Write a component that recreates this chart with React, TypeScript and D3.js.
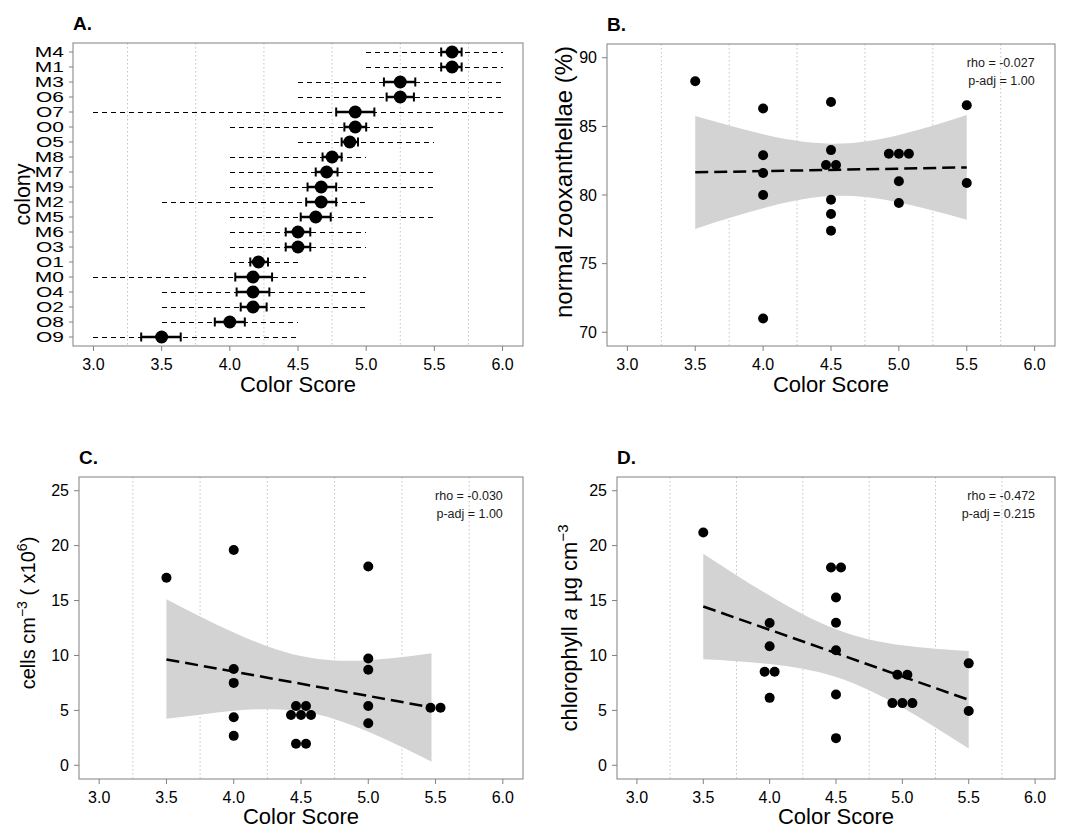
import React from "react";
import * as d3 from "d3";

const FONT = "'Liberation Sans', Arial, Helvetica, sans-serif";

// ---- panel A: colony colour scores (mean, SE bars, min-max range) ----
const colonies = ["M4", "M1", "M3", "O6", "O7", "O0", "O5", "M8", "M7", "M9", "M2", "M5", "M6", "O3", "O1", "M0", "O4", "O2", "O8", "O9"];
const colonyMean = [5.63, 5.63, 5.25, 5.25, 4.92, 4.92, 4.88, 4.75, 4.71, 4.67, 4.67, 4.63, 4.5, 4.5, 4.21, 4.17, 4.17, 4.17, 4.0, 3.5];
const colonySeLow = [5.55, 5.55, 5.13, 5.15, 4.78, 4.84, 4.82, 4.68, 4.63, 4.57, 4.56, 4.52, 4.41, 4.41, 4.15, 4.04, 4.05, 4.08, 3.89, 3.35];
const colonySeHigh = [5.7, 5.7, 5.36, 5.35, 5.06, 5.0, 4.94, 4.82, 4.79, 4.78, 4.78, 4.74, 4.59, 4.59, 4.28, 4.31, 4.29, 4.27, 4.11, 3.64];
const colonyMin = [5.0, 5.0, 4.5, 4.5, 3.0, 4.0, 4.5, 4.0, 4.0, 4.0, 3.5, 4.0, 4.0, 4.0, 4.0, 3.0, 3.5, 3.5, 3.5, 3.0];
const colonyMax = [6.0, 6.0, 6.0, 6.0, 6.0, 5.5, 5.5, 5.0, 5.5, 5.5, 5.0, 5.5, 5.0, 5.0, 4.5, 5.0, 5.0, 5.0, 4.5, 4.5];

// ---- shared x axis ----
const scoreTicks = [3.0, 3.5, 4.0, 4.5, 5.0, 5.5, 6.0];
const scoreGrid = [3.25, 3.75, 4.25, 4.75, 5.25, 5.75];

// ---- panel B: normal zooxanthellae (%) ----
const zooxScore = [3.5, 4, 4, 4, 4, 4, 4.5, 4.5, 4.5, 4.5, 4.5, 4.5, 4.5, 5, 5, 5, 5, 5, 5.5, 5.5];
const zooxValue = [88.28, 86.3, 82.9, 81.6, 80.0, 71.0, 86.78, 83.27, 82.18, 82.18, 79.66, 78.62, 77.4, 83.0, 83.0, 83.0, 81.0, 79.42, 86.54, 80.87];
const zooxBandX = [3.5, 3.75, 4, 4.25, 4.5, 4.75, 5, 5.25, 5.5];
const zooxBandLow = [77.53, 78.32, 79.04, 79.61, 79.92, 79.85, 79.46, 78.88, 78.2];
const zooxBandHigh = [85.76, 85.06, 84.43, 83.95, 83.74, 83.9, 84.38, 85.05, 85.82];
const zooxFitX = [3.5, 5.5];
const zooxFitY = [81.65, 82.01];
const zooxTicks = [70, 75, 80, 85, 90];

// ---- panel C: cells cm-3 ----
const cellScore = [3.5, 4, 4, 4, 4, 4, 4.5, 4.5, 4.5, 4.5, 4.5, 4.5, 4.5, 5, 5, 5, 5, 5, 5.5, 5.5];
const cellValue = [17.08, 19.61, 8.77, 7.5, 4.37, 2.68, 5.39, 5.39, 4.58, 4.58, 4.58, 1.96, 1.96, 18.1, 9.73, 8.7, 5.39, 3.83, 5.24, 5.24];
const cellBandX = [3.5, 3.75, 4, 4.25, 4.5, 4.75, 5, 5.25, 5.47];
const cellBandLow = [4.23, 4.61, 4.96, 5.11, 4.91, 4.2, 3.06, 1.67, 0.33];
const cellBandHigh = [15.11, 13.55, 12.1, 10.84, 9.94, 9.54, 9.57, 9.85, 10.21];
const cellFitX = [3.5, 5.47];
const cellFitY = [9.64, 5.27];

// ---- panel D: chlorophyll a ----
const chlScore = [3.5, 4, 4, 4, 4, 4, 4.5, 4.5, 4.5, 4.5, 4.5, 4.5, 4.5, 5, 5, 5, 5, 5, 5.5, 5.5];
const chlValue = [21.2, 12.95, 10.84, 8.52, 8.52, 6.14, 18.01, 18.01, 15.27, 12.98, 10.48, 6.45, 2.47, 8.25, 8.25, 5.66, 5.66, 5.66, 9.28, 4.94];
const chlBandX = [3.5, 3.75, 4, 4.25, 4.5, 4.75, 5, 5.25, 5.5];
const chlBandLow = [9.65, 9.48, 9.22, 8.79, 8.04, 6.84, 5.25, 3.44, 1.52];
const chlBandHigh = [19.26, 17.31, 15.45, 13.75, 12.38, 11.45, 10.92, 10.61, 10.41];
const chlFitX = [3.5, 5.5];
const chlFitY = [14.46, 5.96];

const countTicks = [0, 5, 10, 15, 20, 25];

const BORDER = "#808080";
const GRID = "#c4c4c4";

function XAxis({ x, top, bottom, title, titleGap }) {
  const mid = (x.range()[0] + x.range()[1]) / 2;
  return (
    <g>
      {scoreGrid.map((g) => (
        <line key={g} x1={x(g)} x2={x(g)} y1={top} y2={bottom} stroke={GRID} strokeWidth={1} strokeDasharray="1.5,2.5" />
      ))}
      {scoreTicks.map((t) => (
        <g key={t}>
          <line x1={x(t)} x2={x(t)} y1={bottom} y2={bottom + 5} stroke={BORDER} />
          <text x={x(t)} y={bottom + 23.5} textAnchor="middle" fontSize={16}>{t.toFixed(1)}</text>
        </g>
      ))}
      <text x={mid} y={bottom + titleGap} textAnchor="middle" fontSize={22}>{title}</text>
    </g>
  );
}

function ColonyPanel() {
  const left = 73, top = 43, right = 523, bottom = 346;
  const x = d3.scaleLinear().domain([2.85, 6.15]).range([left, right]);
  const y = d3.scalePoint().domain(colonies).range([top, bottom]).padding(0.6);

  return (
    <g>
      <text x={left} y={30} fontSize={19} fontWeight="bold">A.</text>
      <XAxis x={x} top={top} bottom={bottom} title="Color Score" titleGap={46} />
      {colonies.map((c, i) => {
        const cy = y(c);
        return (
          <g key={c}>
            <line x1={left - 4} x2={left} y1={cy} y2={cy} stroke={BORDER} />
            <text transform={`translate(${left - 9},${cy + 5}) scale(1.5,1)`} textAnchor="end" fontSize={14}>{c}</text>
            <line x1={x(colonyMin[i])} x2={x(colonyMax[i])} y1={cy + 0.5} y2={cy + 0.5} stroke="#000" strokeWidth={1} strokeDasharray="5,4" shapeRendering="crispEdges" />
            <line x1={x(colonySeLow[i])} x2={x(colonySeHigh[i])} y1={cy} y2={cy} stroke="#000" strokeWidth={2.5} />
            <line x1={x(colonySeLow[i])} x2={x(colonySeLow[i])} y1={cy - 4.5} y2={cy + 4.5} stroke="#000" strokeWidth={2} />
            <line x1={x(colonySeHigh[i])} x2={x(colonySeHigh[i])} y1={cy - 4.5} y2={cy + 4.5} stroke="#000" strokeWidth={2} />
            <circle cx={x(colonyMean[i])} cy={cy} r={6.5} fill="#000" />
          </g>
        );
      })}
      <rect x={left} y={top} width={right - left} height={bottom - top} fill="none" stroke={BORDER} strokeWidth={1} />
      <text transform={`translate(30,${(top + bottom) / 2}) rotate(-90)`} textAnchor="middle" fontSize={21.5}>colony</text>
    </g>
  );
}

// spread overlapping points (same score and value) sideways
function dodgeX(scores, values, x, step) {
  const groups = new Map();
  scores.forEach((s, i) => {
    const key = `${s}|${values[i]}`;
    if (!groups.has(key)) groups.set(key, []);
    groups.get(key).push(i);
  });
  const out = new Array(scores.length);
  groups.forEach((idx) => {
    idx.forEach((i, k) => {
      out[i] = x(scores[i]) + (k - (idx.length - 1) / 2) * step;
    });
  });
  return out;
}

function ScatterPanel(props) {
  const { tag, left, top, right, bottom, yDomain, yTicks, scores, values, bandX, bandLow, bandHigh, fitX, fitY, rho, padj, yTitle, titleX, titleY, titleGap } = props;
  const x = d3.scaleLinear().domain([2.85, 6.15]).range([left, right]);
  const y = d3.scaleLinear().domain(yDomain).range([bottom, top]);

  const band = d3.area()
    .x((d) => x(d[0]))
    .y0((d) => y(d[1]))
    .y1((d) => y(d[2]))
    .curve(d3.curveNatural);
  const bandPath = band(bandX.map((bx, i) => [bx, bandLow[i], bandHigh[i]]));
  const fit = d3.line().x((d) => x(d[0])).y((d) => y(d[1]));
  const fitPath = fit(fitX.map((fx, i) => [fx, fitY[i]]));
  const px = dodgeX(scores, values, x, 10);

  return (
    <g>
      <text x={left} y={top - 13} fontSize={19} fontWeight="bold">{tag}</text>
      <XAxis x={x} top={top} bottom={bottom} title="Color Score" titleGap={titleGap} />
      {yTicks.map((t) => (
        <g key={t}>
          <line x1={left - 5} x2={left} y1={y(t)} y2={y(t)} stroke={BORDER} />
          <text x={left - 10} y={y(t) + 5.7} textAnchor="end" fontSize={16}>{t}</text>
        </g>
      ))}
      <path d={bandPath} fill="#d3d3d3" stroke="none" />
      <path d={fitPath} fill="none" stroke="#000" strokeWidth={2.5} strokeDasharray="13,6" />
      {values.map((v, i) => (
        <circle key={i} cx={px[i]} cy={y(v)} r={5} fill="#000" />
      ))}
      <text x={x(6)} y={top + 23} textAnchor="end" fontSize={12.5} fill="#1a1a1a">{`rho = ${rho}`}</text>
      <text x={x(6)} y={top + 41} textAnchor="end" fontSize={12.5} fill="#1a1a1a">{`p-adj = ${padj}`}</text>
      <rect x={left} y={top} width={right - left} height={bottom - top} fill="none" stroke={BORDER} strokeWidth={1} />
      <g transform={`translate(${titleX},${titleY}) rotate(-90)`}>{yTitle}</g>
    </g>
  );
}

export default function App() {
  return (
    <svg width={1075} height={831} style={{ position: "absolute", left: 0, top: 0, background: "#fff" }} fontFamily={FONT}>
      <rect width={1075} height={831} fill="#fff" />
      <ColonyPanel />
      <ScatterPanel
        tag="B." left={607} top={44} right={1055} bottom={346}
        yDomain={[69, 91]} yTicks={zooxTicks}
        scores={zooxScore} values={zooxValue}
        bandX={zooxBandX} bandLow={zooxBandLow} bandHigh={zooxBandHigh}
        fitX={zooxFitX} fitY={zooxFitY} rho="-0.027" padj="1.00"
        titleX={572} titleY={182} titleGap={46}
        yTitle={<text textAnchor="middle" fontSize={24}>normal zooxanthellae (%)</text>}
      />
      <ScatterPanel
        tag="C." left={79} top={477} right={523} bottom={779}
        yDomain={[-1.25, 26.25]} yTicks={countTicks}
        scores={cellScore} values={cellValue}
        bandX={cellBandX} bandLow={cellBandLow} bandHigh={cellBandHigh}
        fitX={cellFitX} fitY={cellFitY} rho="-0.030" padj="1.00"
        titleX={35} titleY={613} titleGap={45}
        yTitle={
          <text textAnchor="middle" fontSize={20}>
            cells cm<tspan dy={-8} fontSize={14}>−3</tspan>
            <tspan dy={8}> ( x10</tspan><tspan dy={-8} fontSize={14}>6</tspan><tspan dy={8}>)</tspan>
          </text>
        }
      />
      <ScatterPanel
        tag="D." left={617} top={477} right={1055} bottom={779}
        yDomain={[-1.25, 26.25]} yTicks={countTicks}
        scores={chlScore} values={chlValue}
        bandX={chlBandX} bandLow={chlBandLow} bandHigh={chlBandHigh}
        fitX={chlFitX} fitY={chlFitY} rho="-0.472" padj="0.215"
        titleX={577} titleY={628} titleGap={45}
        yTitle={
          <text textAnchor="middle" fontSize={22}>
            chlorophyll <tspan fontStyle="italic">a</tspan> µg cm<tspan dy={-9} fontSize={15}>−3</tspan>
          </text>
        }
      />
    </svg>
  );
}
